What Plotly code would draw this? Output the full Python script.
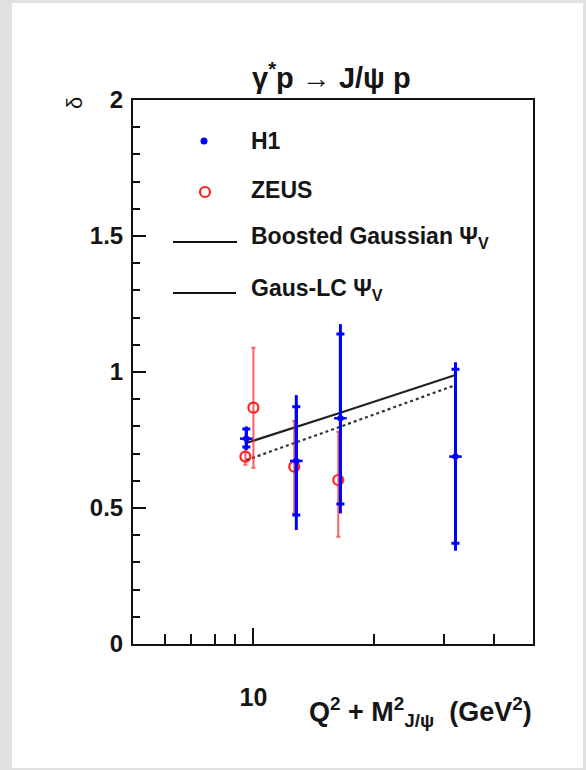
import plotly.graph_objects as go

# ---------------- data ----------------
h1_x = [9.6, 12.8, 16.5, 32.0]
h1_y = [0.755, 0.673, 0.83, 0.689]
h1_tot_up = [0.045, 0.242, 0.346, 0.347]
h1_tot_dn = [0.042, 0.254, 0.350, 0.346]
h1_stat_up = [0.035, 0.199, 0.310, 0.321]
h1_stat_dn = [0.031, 0.199, 0.315, 0.319]

zeus_x = [9.55, 10.0, 12.65, 16.3]
zeus_y = [0.689, 0.869, 0.652, 0.603]
zeus_err_up = [0.03, 0.220, 0.168, 0.177]
zeus_err_dn = [0.03, 0.221, 0.172, 0.209]

model_x = [9.6, 12.8, 16.5, 32.0]
boosted_y = [0.739, 0.798, 0.850, 0.989]
gauslc_y = [0.676, 0.741, 0.799, 0.952]

x_major = [10]
x_minor = [6, 7, 8, 9, 20, 30, 40]
y_major = [0, 0.5, 1, 1.5, 2]
y_labels = ["0", "0.5", "1", "1.5", "2"]

# ---------------- geometry helpers (plot area px) ----------------
W, H = 586, 770
L, R, T, B = 133, 533, 100, 644


def xp(px):
    return (px - L) / (R - L)


def yp(py):
    return (B - py) / (B - T)


FONT = "Liberation Sans, Arial, Helvetica, sans-serif"
TXT = "#151515"
BLUE = "#0000ff"
RED = "rgba(255,40,40,0.75)"

fig = go.Figure()

# models
fig.add_trace(go.Scatter(x=model_x, y=boosted_y, mode="lines",
                         line=dict(color="#222222", width=2.2), hoverinfo="skip"))
fig.add_trace(go.Scatter(x=model_x, y=gauslc_y, mode="lines",
                         line=dict(color="#333333", width=2.2, dash="dot"), hoverinfo="skip"))

# ZEUS
fig.add_trace(go.Scatter(
    x=zeus_x, y=zeus_y, mode="markers",
    marker=dict(symbol="circle-open", size=10, color="#ff2020", line=dict(width=2.2, color="#ff2020")),
    error_y=dict(type="data", symmetric=False, array=zeus_err_up, arrayminus=zeus_err_dn,
                 color=RED, thickness=2, width=2)))

# H1 total errors
fig.add_trace(go.Scatter(
    x=h1_x, y=h1_y, mode="markers",
    marker=dict(symbol="diamond", size=7, color=BLUE),
    error_y=dict(type="data", symmetric=False, array=h1_tot_up, arrayminus=h1_tot_dn,
                 color=BLUE, thickness=3, width=0)))
# H1 stat ticks
fig.add_trace(go.Scatter(
    x=h1_x, y=h1_y, mode="markers",
    marker=dict(symbol="line-ew", size=9, color=BLUE, line=dict(width=2.5, color=BLUE)),
    error_y=dict(type="data", symmetric=False, array=h1_stat_up, arrayminus=h1_stat_dn,
                 color=BLUE, thickness=3, width=4)))

shapes = []
# background panel
shapes.append(dict(type="rect", xref="paper", yref="paper", layer="below",
                   x0=xp(12), x1=xp(583), y0=yp(768), y1=yp(3),
                   fillcolor="white", line=dict(width=0)))
# legend symbols
shapes.append(dict(type="circle", xref="paper", yref="paper",
                   x0=xp(204 - 3.5), x1=xp(204 + 3.5), y0=yp(141 + 3.5), y1=yp(141 - 3.5),
                   fillcolor=BLUE, line=dict(width=0)))
shapes.append(dict(type="circle", xref="paper", yref="paper",
                   x0=xp(205 - 5), x1=xp(205 + 5), y0=yp(192 + 5), y1=yp(192 - 5),
                   fillcolor="rgba(0,0,0,0)", line=dict(width=2.2, color="#ff2020")))
shapes.append(dict(type="line", xref="paper", yref="paper",
                   x0=xp(173), x1=xp(237), y0=yp(242), y1=yp(242),
                   line=dict(width=2, color="#111111")))
shapes.append(dict(type="line", xref="paper", yref="paper",
                   x0=xp(173), x1=xp(236), y0=yp(293), y1=yp(293),
                   line=dict(width=2, color="#111111")))

ann = []
legend_items = [("H1", 141), ("ZEUS", 190), ("Boosted Gaussian Ψ<sub>V</sub>", 237),
                ("Gaus-LC Ψ<sub>V</sub>", 289)]
for txt, py in legend_items:
    ann.append(dict(text=txt, xref="paper", yref="paper", x=xp(249), y=yp(py),
                    xanchor="left", yanchor="middle", showarrow=False,
                    font=dict(family=FONT, size=23, color=TXT, weight="bold")))
# title
ann.append(dict(text="γ<sup>*</sup>p → J/ψ p", xref="paper", yref="paper",
                x=xp(331), y=yp(76), xanchor="center", yanchor="middle", showarrow=False,
                font=dict(family=FONT, size=29, color=TXT, weight="bold")))
# y title
ann.append(dict(text="δ", xref="paper", yref="paper", x=xp(75), y=yp(103),
                xanchor="center", yanchor="middle", showarrow=False, textangle=-90,
                font=dict(family=FONT, size=22, color=TXT)))
# x title
ann.append(dict(text="Q<sup>2</sup> + M<sup>2</sup><sub>J/ψ</sub>  (GeV<sup>2</sup>)",
                xref="paper", yref="paper", x=xp(534), y=yp(712),
                xanchor="right", yanchor="middle", showarrow=False,
                font=dict(family=FONT, size=27, color=TXT, weight="bold")))

fig.update_layout(
    width=W, height=H,
    margin=dict(l=L, r=W - R, t=T, b=H - B, pad=0),
    paper_bgcolor="#e1e1e1", plot_bgcolor="white",
    showlegend=False,
    shapes=shapes, annotations=ann,
    font=dict(family=FONT, color=TXT),
)
fig.update_xaxes(
    type="log", range=[0.69897, 1.69897],
    tickmode="array", tickvals=x_major, ticktext=["10"],
    ticks="inside", ticklen=16, tickwidth=2, tickcolor="#111111",
    minor=dict(tickmode="array", tickvals=x_minor, ticks="inside", ticklen=10,
               tickwidth=2, tickcolor="#111111"),
    showline=True, linewidth=2, linecolor="#111111", mirror=True,
    showgrid=False, zeroline=False,
    tickfont=dict(family=FONT, size=25, color=TXT, weight="bold"),
    ticklabelstandoff=30,
)
fig.update_yaxes(
    range=[0, 2], tickmode="array", tickvals=y_major, ticktext=y_labels,
    ticks="inside", ticklen=13, tickwidth=2, tickcolor="#111111",
    minor=dict(tickmode="linear", tick0=0, dtick=0.1, ticks="inside", ticklen=7,
               tickwidth=2, tickcolor="#111111"),
    showline=True, linewidth=2, linecolor="#111111", mirror=True,
    showgrid=False, zeroline=False,
    tickfont=dict(family=FONT, size=24, color=TXT, weight="bold"),
    ticklabelstandoff=3,
)

fig.write_html("out.html")
